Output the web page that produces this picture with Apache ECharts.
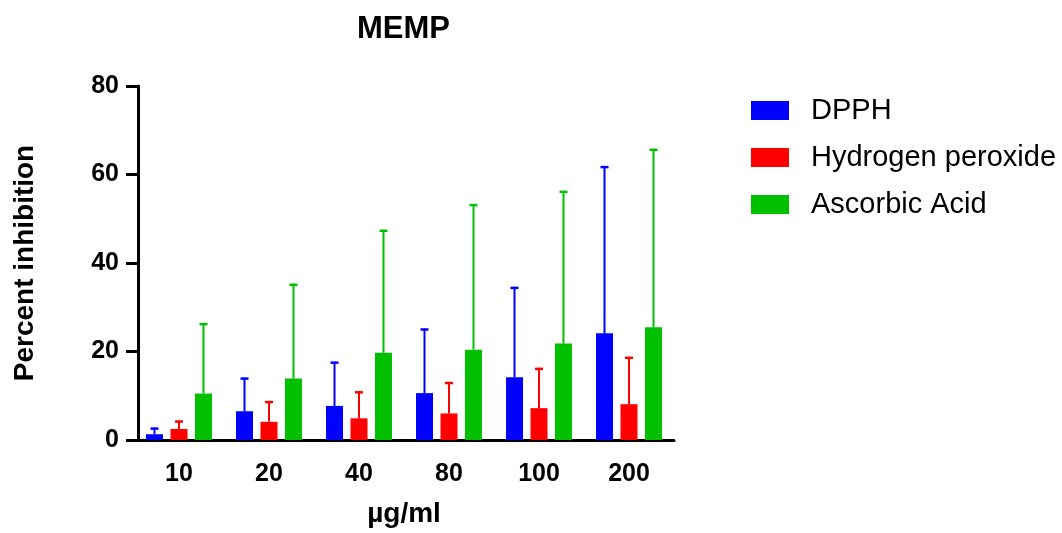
<!DOCTYPE html>
<html>
<head>
<meta charset="utf-8">
<script src="https://cdn.jsdelivr.net/npm/echarts@6/dist/echarts.min.js"></script>
<style>
  html, body { margin: 0; padding: 0; background: #fff; }
  #chart { width: 1062px; height: 533px; }
</style>
</head>
<body>
<div id="chart"></div>
<script>
// concentrations on the x axis
const doses = ['10', '20', '40', '80', '100', '200'];

// mean percent inhibition per assay
const dpphMean = [1.3, 6.5, 7.7, 10.6, 14.2, 24.1];
const h2o2Mean = [2.5, 4.1, 4.9, 6.0, 7.2, 8.1];
const ascMean = [10.5, 13.9, 19.7, 20.4, 21.8, 25.5];

// upper error (SD) per assay
const dpphSd = [1.5, 7.6, 10.0, 14.6, 20.4, 37.8];
const h2o2Sd = [1.9, 4.7, 6.1, 7.1, 9.1, 10.7];
const ascSd = [15.9, 21.4, 27.8, 32.9, 34.5, 40.3];

const yTicks = [0, 20, 40, 60, 80];

const FONT = 'Arial, "Liberation Sans", sans-serif';
const BAR_W = 17;
const BAR_STEP = 24.5; // distance between bar centres in one group

const chart = echarts.init(document.getElementById('chart'));

// draws the upper whisker with a cap, shifted to sit over its own bar
function errorSeries(name, color, mean, sd, slot) {
  return {
    name: name,
    type: 'custom',
    z: 3,
    data: mean.map((m, i) => [i, m, m + sd[i]]),
    renderItem: function (params, api) {
      const base = api.coord([api.value(0), api.value(1)]);
      const top = api.coord([api.value(0), api.value(2)]);
      const x = base[0] + slot * BAR_STEP;
      const cap = 4;
      return {
        type: 'group',
        children: [
          {
            type: 'line',
            shape: { x1: x, y1: base[1], x2: x, y2: top[1] },
            style: { stroke: color, lineWidth: 2 }
          },
          {
            type: 'line',
            shape: { x1: x - cap, y1: top[1] + 1, x2: x + cap, y2: top[1] + 1 },
            style: { stroke: color, lineWidth: 2.5 }
          }
        ]
      };
    }
  };
}

function barSeries(name, color, mean) {
  return {
    name: name,
    type: 'bar',
    barWidth: BAR_W,
    barGap: '44%',
    data: mean,
    itemStyle: { color: color },
    z: 2
  };
}

const option = {
  animation: false,
  textStyle: { fontFamily: FONT },
  title: {
    text: 'MEMP',
    left: 352,
    top: 9,
    textStyle: { fontSize: 31, fontWeight: 'bold', color: '#000', fontFamily: FONT }
  },
  legend: {
    orient: 'vertical',
    left: 746,
    top: 91,
    itemWidth: 38,
    itemHeight: 19,
    itemGap: 18,
    icon: 'rect',
    data: ['DPPH', 'Hydrogen peroxide', 'Ascorbic Acid'],
    textStyle: {
      fontSize: 29,
      color: '#000',
      fontFamily: FONT,
      padding: [0, 0, 0, 17]
    }
  },
  grid: {
    left: 134,
    width: 540,
    top: 86,
    bottom: 93,
    containLabel: false
  },
  xAxis: {
    type: 'category',
    data: doses,
    boundaryGap: true,
    name: 'µg/ml',
    nameLocation: 'middle',
    nameGap: 60,
    nameTextStyle: { fontSize: 28, fontWeight: 'bold', color: '#000', fontFamily: FONT },
    axisLine: { lineStyle: { color: '#000', width: 3 } },
    axisTick: { alignWithLabel: true, length: 13, lineStyle: { width: 3, color: '#000' } },
    axisLabel: { fontSize: 25, fontWeight: 'bold', color: '#000', margin: 22, fontFamily: FONT }
  },
  yAxis: {
    type: 'value',
    min: yTicks[0],
    max: yTicks[yTicks.length - 1],
    interval: 20,
    offset: -4,
    name: 'Percent inhibition',
    nameLocation: 'middle',
    nameGap: 99,
    nameTextStyle: { fontSize: 28, fontWeight: 'bold', color: '#000', fontFamily: FONT },
    splitLine: { show: false },
    axisLine: { show: true, lineStyle: { color: '#000', width: 3 } },
    axisTick: { show: true, length: 12, lineStyle: { width: 3, color: '#000' } },
    axisLabel: { fontSize: 25, fontWeight: 'bold', color: '#000', margin: 19, fontFamily: FONT }
  },
  series: [
    barSeries('DPPH', '#0000ff', dpphMean),
    barSeries('Hydrogen peroxide', '#ff0000', h2o2Mean),
    barSeries('Ascorbic Acid', '#00c000', ascMean),
    errorSeries('DPPH', '#0000ff', dpphMean, dpphSd, -1),
    errorSeries('Hydrogen peroxide', '#ff0000', h2o2Mean, h2o2Sd, 0),
    errorSeries('Ascorbic Acid', '#00c000', ascMean, ascSd, 1)
  ]
};

chart.setOption(option);
</script>
</body>
</html>
